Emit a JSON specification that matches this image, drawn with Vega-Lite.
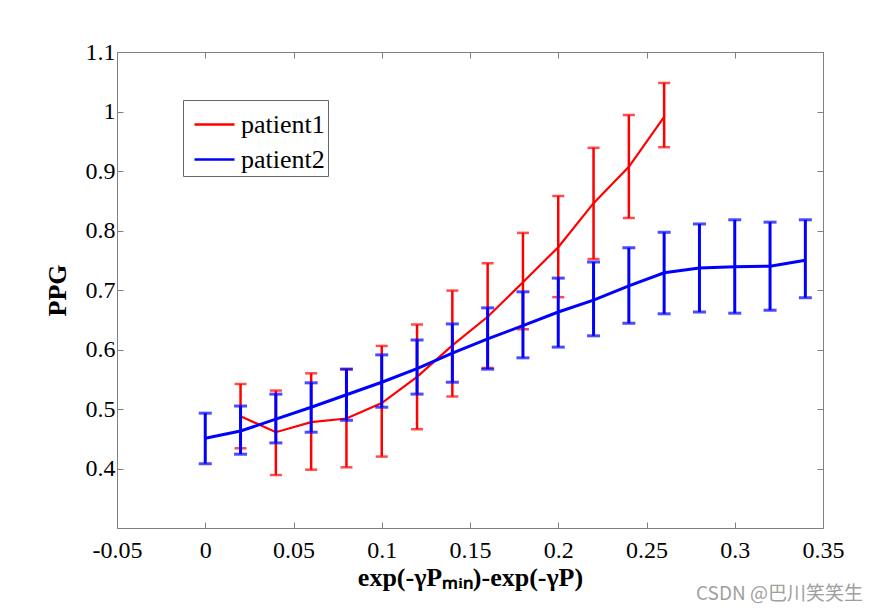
{
  "$schema": "https://vega.github.io/schema/vega-lite/v6.json",
  "width": 706,
  "height": 476,
  "autosize": {"type": "none"},
  "padding": {"left": 117, "top": 52, "right": 57, "bottom": 86},
  "background": "white",
  "title": {"text": "CSDN @巴川笑笑生", "orient": "bottom", "anchor": "end", "font": "Noto Sans CJK SC", "fontSize": 19, "fontWeight": "normal", "color": "#a0a0a0", "offset": -5, "frame": "group", "dx": 40},
  "config": {
    "view": {"stroke": "#808080", "strokeWidth": 1},
    "axis": {"grid": false, "domain": false, "tickColor": "#808080", "tickSize": -6, "labelFlush": false, "labelFont": "Liberation Serif", "labelFontSize": 24, "labelColor": "black", "titleFont": "Liberation Serif", "titleFontSize": 26, "titleFontWeight": "bold", "titleColor": "black"},
    "legend": {"labelFont": "Liberation Serif"}
  },
  "data": {"values": [
    {"series": "patient1", "x": 0.02, "mean": 0.488, "lo": 0.434, "hi": 0.542},
    {"series": "patient1", "x": 0.04, "mean": 0.461, "lo": 0.389, "hi": 0.531},
    {"series": "patient1", "x": 0.06, "mean": 0.478, "lo": 0.398, "hi": 0.560},
    {"series": "patient1", "x": 0.08, "mean": 0.484, "lo": 0.402, "hi": 0.567},
    {"series": "patient1", "x": 0.10, "mean": 0.510, "lo": 0.420, "hi": 0.606},
    {"series": "patient1", "x": 0.12, "mean": 0.554, "lo": 0.466, "hi": 0.642},
    {"series": "patient1", "x": 0.14, "mean": 0.607, "lo": 0.521, "hi": 0.699},
    {"series": "patient1", "x": 0.16, "mean": 0.655, "lo": 0.569, "hi": 0.745},
    {"series": "patient1", "x": 0.18, "mean": 0.713, "lo": 0.634, "hi": 0.796},
    {"series": "patient1", "x": 0.20, "mean": 0.772, "lo": 0.688, "hi": 0.858},
    {"series": "patient1", "x": 0.22, "mean": 0.846, "lo": 0.752, "hi": 0.939},
    {"series": "patient1", "x": 0.24, "mean": 0.907, "lo": 0.821, "hi": 0.994},
    {"series": "patient1", "x": 0.26, "mean": 0.991, "lo": 0.940, "hi": 1.048},
    {"series": "patient2", "x": 0.00, "mean": 0.451, "lo": 0.408, "hi": 0.493},
    {"series": "patient2", "x": 0.02, "mean": 0.463, "lo": 0.424, "hi": 0.505},
    {"series": "patient2", "x": 0.04, "mean": 0.483, "lo": 0.443, "hi": 0.525},
    {"series": "patient2", "x": 0.06, "mean": 0.503, "lo": 0.461, "hi": 0.544},
    {"series": "patient2", "x": 0.08, "mean": 0.524, "lo": 0.481, "hi": 0.567},
    {"series": "patient2", "x": 0.10, "mean": 0.545, "lo": 0.503, "hi": 0.591},
    {"series": "patient2", "x": 0.12, "mean": 0.568, "lo": 0.525, "hi": 0.616},
    {"series": "patient2", "x": 0.14, "mean": 0.594, "lo": 0.545, "hi": 0.643},
    {"series": "patient2", "x": 0.16, "mean": 0.618, "lo": 0.567, "hi": 0.670},
    {"series": "patient2", "x": 0.18, "mean": 0.640, "lo": 0.586, "hi": 0.697},
    {"series": "patient2", "x": 0.20, "mean": 0.663, "lo": 0.604, "hi": 0.720},
    {"series": "patient2", "x": 0.22, "mean": 0.683, "lo": 0.623, "hi": 0.747},
    {"series": "patient2", "x": 0.24, "mean": 0.707, "lo": 0.644, "hi": 0.771},
    {"series": "patient2", "x": 0.26, "mean": 0.729, "lo": 0.660, "hi": 0.797},
    {"series": "patient2", "x": 0.28, "mean": 0.737, "lo": 0.663, "hi": 0.811},
    {"series": "patient2", "x": 0.30, "mean": 0.739, "lo": 0.661, "hi": 0.818},
    {"series": "patient2", "x": 0.32, "mean": 0.740, "lo": 0.666, "hi": 0.814},
    {"series": "patient2", "x": 0.34, "mean": 0.750, "lo": 0.687, "hi": 0.818}
  ]},
  "resolve": {"axis": {"x": "independent", "y": "independent"}},
  "layer": [
    {
      "mark": {"type": "errorbar", "thickness": 2.5, "ticks": {"size": 12}},
      "transform": [{"filter": "datum.series === 'patient1'"}],
      "encoding": {
        "x": {"field": "x", "type": "quantitative", "scale": {"domain": [-0.05, 0.35], "nice": false, "zero": false},
          "axis": {"values": [-0.05, 0, 0.05, 0.1, 0.15, 0.2, 0.25, 0.3, 0.35], "labelExpr": "'' + datum.value", "title": "exp(-γPₘᵢₙ)-exp(-γP)", "labelPadding": 16, "titlePadding": 2}},
        "y": {"field": "lo", "type": "quantitative", "scale": {"domain": [0.3, 1.1], "nice": false, "zero": false},
          "axis": {"values": [0.4, 0.5, 0.6, 0.7, 0.8, 0.9, 1, 1.1], "labelExpr": "'' + datum.value", "title": "PPG", "labelPadding": 8, "titlePadding": 15}},
        "y2": {"field": "hi"},
        "color": {"value": "#ff0000"}
      }
    },
    {
      "mark": {"type": "line", "strokeWidth": 2.2},
      "transform": [{"filter": "datum.series === 'patient1'"}],
      "encoding": {
        "x": {"field": "x", "type": "quantitative", "axis": {"orient": "top", "labels": false, "title": null, "values": [-0.05, 0, 0.05, 0.1, 0.15, 0.2, 0.25, 0.3, 0.35]}},
        "y": {"field": "mean", "type": "quantitative", "axis": {"orient": "right", "labels": false, "title": null, "values": [0.4, 0.5, 0.6, 0.7, 0.8, 0.9, 1, 1.1]}},
        "color": {"field": "series", "type": "nominal", "scale": {"domain": ["patient1", "patient2"], "range": ["#ff0000", "#0000ff"]},
          "legend": {"title": null, "orient": "none", "legendX": 66, "legendY": 48, "symbolType": "stroke", "symbolStrokeWidth": 2.5, "symbolSize": 1600, "symbolOffset": 7, "labelFontSize": 26, "labelColor": "black", "labelExpr": "datum.label + '\u00a0'", "strokeColor": "#666666", "fillColor": "white", "padding": 3, "rowPadding": 0, "labelOffset": 5}}
      }
    },
    {
      "mark": {"type": "errorbar", "thickness": 3, "ticks": {"size": 13}},
      "transform": [{"filter": "datum.series === 'patient2'"}],
      "encoding": {
        "x": {"field": "x", "type": "quantitative", "axis": null},
        "y": {"field": "lo", "type": "quantitative", "axis": null},
        "y2": {"field": "hi"},
        "color": {"value": "#0000ff"}
      }
    },
    {
      "mark": {"type": "line", "strokeWidth": 3},
      "transform": [{"filter": "datum.series === 'patient2'"}],
      "encoding": {
        "x": {"field": "x", "type": "quantitative", "axis": null},
        "y": {"field": "mean", "type": "quantitative", "axis": null},
        "color": {"field": "series", "type": "nominal"}
      }
    }
  ]
}
